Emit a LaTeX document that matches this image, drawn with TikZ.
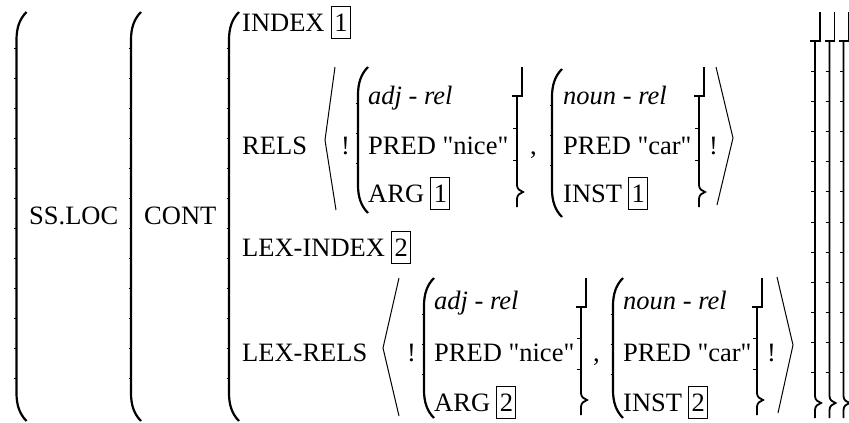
\documentclass[tikz,border=0pt]{standalone}
\usepackage{fontspec}
\setmainfont{Liberation Serif}[Ligatures=TeXOff]
\usetikzlibrary{positioning}

% bracket pieces of the matrix
\newcommand{\avmlpar}[3]{% x, top, bottom
  \draw[par] (#1+10,#2) .. controls (#1+3,#2+7) and (#1,#2+16) .. (#1,#2+28)
    -- (#1,#3-28) .. controls (#1,#3-16) and (#1+3,#3-7) .. (#1+10,#3);
  \pgfmathtruncatemacro{\tkn}{(#3-#2-60)/30}
  \foreach \k in {0,...,\tkn}
    \draw[joint] (#1-2.5,{#2+36+\k*30}) -- (#1,{#2+36+\k*30});}
\newcommand{\avmrbrk}[4]{% x, top, bottom, ticks
  \draw[brk] (#1+5,#2) -- (#1+5,#2+29) -- (#1-5,#2+29);
  \draw[brk] (#1,#2+29) -- (#1,#3-22) .. controls (#1,#3-18) and (#1+3,#3-16) .. (#1+6,#3-15)
    .. controls (#1+3,#3-14) and (#1,#3-12) .. (#1,#3-8) -- (#1,#3);
  \pgfmathsetmacro{\tkstep}{(#3-#2-44)/(#4+1)}
  \foreach \k in {1,...,#4}
    \draw[tick] (#1-4,{#2+29+\k*\tkstep}) -- (#1,{#2+29+\k*\tkstep});}

\tikzset{
  avm/.style={anchor=base west, inner sep=0pt, font=\fontsize{26.5}{30}\selectfont},
  tag/.style={avm, draw, line width=1.1pt, minimum width=19pt, minimum height=32pt},
  par/.style={line width=2.2pt},
  brk/.style={line width=1.8pt},
  ang/.style={line width=1pt},
  tick/.style={line width=1pt},
  joint/.style={line width=0.8pt}
}

\begin{document}
\begin{tikzpicture}[x=1pt,y=-1pt]
\useasboundingbox (0,0) rectangle (849,423);
% outer levels
\node[avm] (ssloc) at (29,224) {SS.LOC};
\node[avm] (cont) at (144,224) {CONT};
\avmlpar{16.5}{12}{421}
\avmlpar{131}{12}{421}
\avmlpar{229}{12}{421}
% INDEX and RELS
\node[avm] (index) at (242,31) {INDEX};
\node[tag, right=6pt of index.base east, anchor=base west] (tagia) {1};
\node[avm] (rels) at (242,154) {RELS};
\draw[ang] (335,67) -- (325,140) -- (336,210);
\node[avm] (banga) at (341,154) {!};
\avmlpar{358}{67}{213}
\node[avm] (adja) at (368,104) {\textit{adj} - \textit{rel}};
\node[avm] (preda) at (368,154) {PRED "nice"};
\node[avm] (arga) at (368,202) {ARG};
\node[tag, right=6pt of arga.base east, anchor=base west] (tagib) {1};
\avmrbrk{517}{67}{207}{2}
\node[avm] (commaa) at (530,154) {,};
\avmlpar{552}{69}{217}
\node[avm] (nouna) at (563,104) {\textit{noun} - \textit{rel}};
\node[avm] (predb) at (563,154) {PRED "car"};
\node[avm] (insta) at (563,202) {INST};
\node[tag, right=6pt of insta.base east, anchor=base west] (tagic) {1};
\avmrbrk{699}{67}{207}{2}
\node[avm] (bangb) at (709,154) {!};
\draw[ang] (716,67) -- (733,138) -- (717,205);
% LEX-INDEX and LEX-RELS
\node[avm] (lexindex) at (242,256) {LEX-INDEX};
\node[tag, right=6pt of lexindex.base east, anchor=base west] (tagiia) {2};
\node[avm] (lexrels) at (242,361) {LEX-RELS};
\draw[ang] (399,278) -- (383,348) -- (399,416);
\node[avm] (bangc) at (407,361) {!};
\avmlpar{424}{278}{418}
\node[avm] (adjb) at (434,309) {\textit{adj} - \textit{rel}};
\node[avm] (predc) at (434,361) {PRED "nice"};
\node[avm] (argb) at (434,411) {ARG};
\node[tag, right=6pt of argb.base east, anchor=base west] (tagiib) {2};
\avmrbrk{581}{278}{415}{2}
\node[avm] (commab) at (593,361) {,};
\avmlpar{613}{278}{418}
\node[avm] (nounb) at (623,309) {\textit{noun} - \textit{rel}};
\node[avm] (predd) at (623,361) {PRED "car"};
\node[avm] (instb) at (623,411) {INST};
\node[tag, right=6pt of instb.base east, anchor=base west] (tagiic) {2};
\avmrbrk{757}{278}{415}{2}
\node[avm] (bangd) at (767,361) {!};
\draw[ang] (777,277) -- (793,345) -- (778,413);
% closing brackets of the outer levels
\avmrbrk{815}{12}{418}{11}
\avmrbrk{829.5}{12}{418}{11}
\avmrbrk{843.5}{12}{418}{11}
\end{tikzpicture}
\end{document}
